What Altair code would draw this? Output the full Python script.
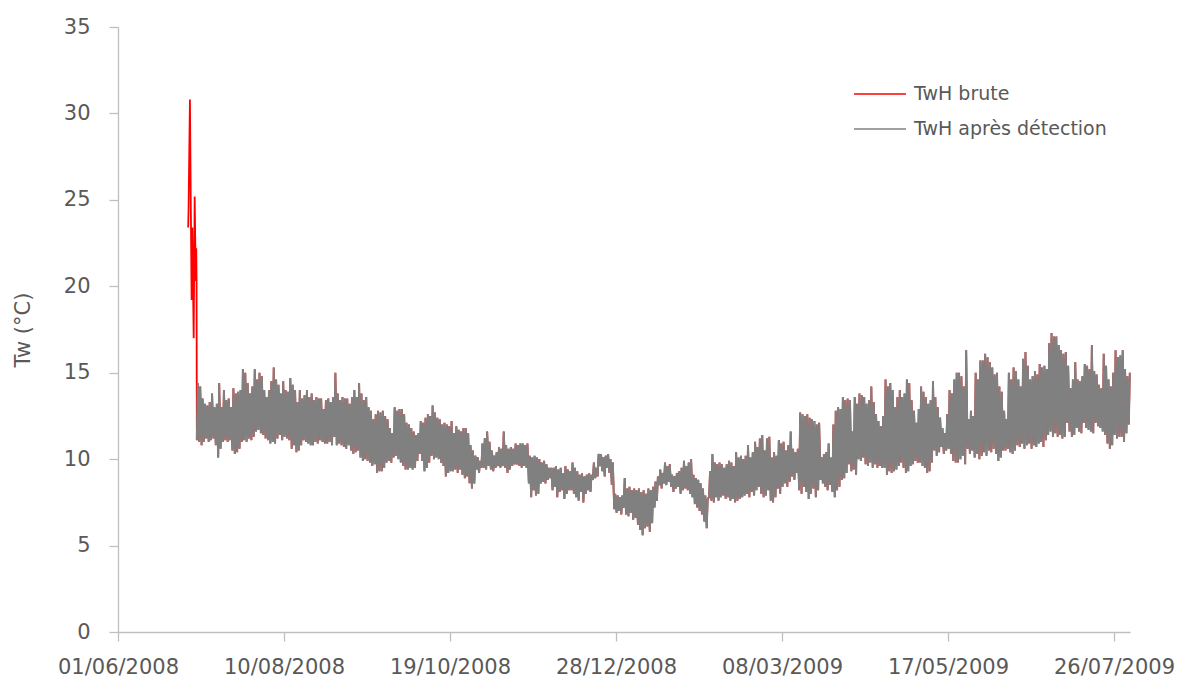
import altair as alt
import pandas as pd
from datetime import date, timedelta

# Raw sensor spike at installation (timestamp, degC)
brute_t = ["2008-06-30T14:00:00", "2008-06-30T18:00:00", "2008-07-01T08:00:00",
           "2008-07-02T01:00:00", "2008-07-02T08:00:00", "2008-07-02T22:00:00",
           "2008-07-03T08:00:00", "2008-07-03T19:00:00", "2008-07-04T00:00:00",
           "2008-07-04T03:00:00"]
brute_v = [23.4, 24.4, 30.8, 19.2, 23.4, 17.0, 25.2, 20.3, 22.2, 20.4]

# Daily minima / maxima of the validated series, one list per month
jul08_lo = [11.1, 11.0, 10.8, 11.0, 11.2, 11.0, 11.1, 11.2, 10.8, 10.1, 10.6, 11.0, 11.1, 11.0,
            11.1, 10.5, 10.3, 10.4, 10.6, 11.0, 11.1, 11.0, 11.2, 11.1, 11.3, 11.6, 11.7, 11.5]
jul08_hi = [14.4, 14.2, 13.5, 13.2, 13.1, 13.3, 13.8, 13.0, 13.2, 14.4, 13.0, 14.0, 13.4, 13.5,
            13.0, 14.1, 13.8, 13.9, 14.0, 15.2, 15.0, 14.4, 13.8, 14.2, 15.2, 14.6, 15.0, 14.8]
aug08_lo = [11.4, 11.2, 11.1, 10.9, 11.0, 10.9, 11.2, 11.4, 11.1, 11.3, 11.2, 11.1, 10.6, 10.8,
            10.4, 10.5, 10.8, 11.1, 11.0, 10.9, 10.8, 10.8, 11.0, 10.9, 11.1, 11.0, 10.9, 10.9,
            11.0, 10.8, 11.3]
aug08_hi = [14.0, 13.6, 14.0, 14.5, 15.3, 14.6, 14.3, 13.8, 14.5, 14.0, 13.9, 14.7, 14.3, 14.0,
            13.3, 14.0, 13.5, 13.7, 14.0, 13.6, 13.8, 13.4, 13.6, 13.5, 13.5, 12.9, 13.4, 13.5,
            13.3, 13.6, 15.0]
sep08_lo = [10.8, 10.9, 10.8, 10.7, 10.6, 10.8, 10.5, 10.3, 10.4, 10.5, 10.1, 9.9, 10.0, 9.9,
            9.8, 9.6, 9.7, 9.2, 9.3, 9.3, 9.5, 9.8, 9.9, 9.8, 10.1, 10.2, 10.0, 9.8, 9.6, 9.4]
sep08_hi = [13.8, 13.4, 13.6, 13.5, 13.5, 13.2, 13.6, 14.0, 13.6, 14.4, 13.8, 13.4, 13.6, 13.0,
            12.8, 12.3, 12.6, 12.8, 12.7, 12.8, 12.5, 12.3, 11.8, 11.5, 13.0, 12.8, 12.9, 12.9,
            12.6, 12.1]
oct08_lo = [9.4, 9.5, 9.4, 9.5, 9.9, 10.3, 9.9, 9.3, 9.5, 9.8, 10.2, 10.0, 10.1, 10.0, 9.8, 9.6,
            9.0, 9.2, 9.3, 9.3, 9.4, 9.2, 9.4, 9.1, 8.9, 9.0, 8.6, 8.3, 8.6, 9.4, 9.2]
oct08_hi = [12.0, 11.8, 11.6, 11.4, 11.5, 12.2, 12.1, 12.4, 12.6, 12.5, 13.1, 12.7, 12.4, 12.3,
            12.0, 12.1, 12.0, 11.9, 12.2, 11.5, 11.9, 11.7, 11.6, 11.8, 11.8, 11.5, 10.8, 10.5,
            10.2, 10.1, 9.9]
nov08_lo = [9.5, 9.5, 9.4, 9.6, 9.4, 9.3, 9.5, 9.6, 9.5, 9.6, 9.5, 9.2, 9.4, 9.6, 9.7, 9.7, 9.6,
            9.5, 9.6, 9.5, 8.6, 7.8, 8.2, 7.9, 8.0, 8.6, 8.7, 8.6, 8.8, 8.9]
nov08_hi = [10.9, 11.2, 11.6, 11.0, 10.5, 10.2, 10.4, 10.7, 10.6, 11.6, 10.8, 10.6, 10.7, 10.6,
            10.9, 10.8, 10.9, 10.9, 10.8, 10.9, 10.2, 10.1, 10.2, 10.1, 10.0, 9.8, 9.9, 9.7, 9.5,
            9.5]
dec08_lo = [8.2, 8.4, 7.8, 8.1, 8.2, 7.7, 8.0, 8.2, 8.2, 8.0, 7.8, 7.6, 8.1, 7.5, 8.0, 8.2, 8.1,
            8.8, 8.9, 9.0, 9.6, 9.3, 9.0, 9.5, 9.2, 8.5, 7.1, 6.9, 7.0, 6.8, 7.2]
dec08_hi = [9.5, 9.6, 9.4, 9.5, 9.2, 9.6, 9.4, 9.3, 9.8, 9.5, 9.3, 9.1, 9.2, 9.0, 9.1, 9.2, 9.1,
            9.8, 9.5, 10.3, 10.3, 10.1, 10.2, 10.3, 10.0, 9.8, 8.0, 7.9, 7.8, 7.9, 8.9]
jan09_lo = [6.8, 6.7, 6.9, 6.5, 6.6, 6.2, 5.9, 5.6, 6.0, 6.1, 5.8, 6.3, 7.2, 7.6, 8.5, 8.3, 8.6,
            8.5, 8.7, 8.4, 8.1, 8.3, 8.4, 8.0, 8.2, 8.3, 8.2, 8.0, 7.8, 7.4, 7.2]
jan09_hi = [8.3, 8.4, 8.2, 8.3, 8.2, 8.3, 8.1, 8.2, 8.0, 8.3, 8.2, 8.4, 8.7, 9.0, 9.4, 9.2, 9.8,
            9.6, 9.7, 9.1, 9.0, 9.2, 9.3, 9.5, 9.9, 9.6, 9.8, 10.0, 9.1, 8.9, 8.8]
feb09_lo = [7.0, 6.8, 6.4, 6.0, 7.8, 7.6, 7.5, 7.8, 7.6, 7.8, 7.9, 7.7, 7.8, 7.6, 7.7, 7.5, 7.6,
            7.7, 7.8, 7.9, 8.0, 7.8, 8.1, 7.9, 8.2, 8.4, 8.0, 7.8]
feb09_hi = [8.6, 8.3, 7.9, 7.7, 9.3, 10.3, 9.8, 9.7, 9.8, 9.7, 9.5, 9.7, 9.9, 9.8, 9.6, 10.4,
            10.1, 10.2, 10.0, 10.2, 10.8, 10.1, 10.4, 11.0, 10.7, 11.2, 11.4, 10.5]
mar09_lo = [7.9, 8.2, 7.6, 7.5, 7.8, 8.3, 8.0, 8.4, 8.6, 8.4, 8.7, 9.0, 8.8, 9.2, 8.2, 8.0, 8.4,
            8.1, 7.7, 8.0, 8.3, 7.8, 8.2, 8.8, 8.6, 8.4, 8.2, 8.5, 8.1, 7.8, 8.2]
mar09_hi = [11.2, 11.3, 10.1, 10.4, 10.2, 11.1, 10.9, 11.0, 10.5, 10.8, 11.6, 10.6, 10.4, 10.6,
            12.7, 12.6, 12.5, 12.6, 12.4, 12.3, 12.2, 12.0, 12.1, 10.1, 10.3, 10.4, 10.9, 10.1,
            12.0, 12.8, 13.0]
apr09_lo = [8.4, 8.8, 8.9, 9.2, 9.7, 9.3, 9.4, 9.1, 10.0, 9.9, 10.1, 9.7, 9.6, 9.8, 9.5, 9.7,
            9.5, 9.6, 9.5, 9.5, 9.1, 9.3, 9.2, 9.3, 9.4, 9.6, 9.8, 9.5, 9.2, 9.3]
apr09_hi = [12.9, 13.6, 13.4, 13.5, 13.4, 11.6, 13.6, 13.2, 13.8, 13.7, 13.6, 13.2, 13.4, 14.2,
            13.3, 12.6, 12.2, 11.9, 12.5, 14.6, 14.2, 14.4, 14.0, 13.0, 13.6, 14.0, 13.6, 13.8,
            14.6, 14.4]
may09_lo = [9.6, 9.7, 9.9, 9.8, 9.8, 9.6, 9.5, 9.2, 9.3, 9.8, 10.5, 10.2, 10.4, 10.7, 10.3, 10.5,
            10.6, 10.3, 9.9, 9.8, 9.8, 10.0, 10.2, 9.7, 10.6, 10.3, 10.5, 10.1, 10.3, 10.0, 10.2]
may09_hi = [13.4, 12.8, 12.1, 12.9, 14.2, 13.9, 13.6, 13.2, 13.4, 14.5, 13.6, 13.0, 12.4, 11.8,
            11.5, 12.6, 14.0, 13.8, 14.6, 15.0, 15.0, 14.8, 14.2, 16.3, 12.3, 12.8, 12.5, 15.0,
            14.6, 15.7, 15.7]
jun09_lo = [10.4, 10.2, 10.5, 10.4, 10.6, 10.3, 9.9, 10.1, 10.5, 10.5, 10.6, 10.4, 10.3, 10.5,
            10.8, 10.7, 10.9, 10.6, 10.8, 10.9, 10.6, 10.8, 10.7, 10.9, 11.0, 10.7, 11.1, 11.4,
            11.6, 11.3]
jun09_hi = [16.1, 15.9, 15.6, 15.3, 14.9, 15.0, 14.2, 13.9, 12.8, 12.3, 15.0, 14.6, 15.3, 15.1,
            14.6, 14.2, 15.8, 16.2, 15.4, 14.6, 14.8, 15.1, 14.9, 15.5, 15.3, 15.4, 15.2, 16.7,
            17.3, 17.1]
jul09_lo = [11.5, 11.3, 11.4, 11.2, 11.3, 12.1, 11.6, 11.3, 11.4, 11.8, 11.6, 11.5, 12.1, 11.8,
            11.7, 11.6, 11.5, 12.1, 11.9, 11.8, 11.6, 11.4, 10.9, 10.6, 10.8, 11.4, 11.2, 11.3,
            11.3, 11.0, 11.5, 12.0]
jul09_hi = [17.1, 16.6, 16.3, 16.1, 16.2, 15.4, 14.1, 14.6, 15.6, 14.6, 14.5, 14.8, 15.5, 15.4,
            15.2, 16.6, 15.1, 14.9, 14.3, 14.1, 16.1, 15.4, 14.6, 14.2, 15.0, 16.3, 15.9, 16.0,
            16.3, 15.2, 14.8, 15.0]

months = [
    (date(2008, 7, 4), jul08_lo, jul08_hi),
    (date(2008, 8, 1), aug08_lo, aug08_hi),
    (date(2008, 9, 1), sep08_lo, sep08_hi),
    (date(2008, 10, 1), oct08_lo, oct08_hi),
    (date(2008, 11, 1), nov08_lo, nov08_hi),
    (date(2008, 12, 1), dec08_lo, dec08_hi),
    (date(2009, 1, 1), jan09_lo, jan09_hi),
    (date(2009, 2, 1), feb09_lo, feb09_hi),
    (date(2009, 3, 1), mar09_lo, mar09_hi),
    (date(2009, 4, 1), apr09_lo, apr09_hi),
    (date(2009, 5, 1), may09_lo, may09_hi),
    (date(2009, 6, 1), jun09_lo, jun09_hi),
    (date(2009, 7, 1), jul09_lo, jul09_hi),
]

# Daily cycle: minimum early morning, maximum mid-afternoon
det_t, det_v = [], []
for start, lows, highs in months:
    for i, (lo, hi) in enumerate(zip(lows, highs)):
        d = start + timedelta(days=i)
        det_t += [f"{d.isoformat()}T06:00:00", f"{d.isoformat()}T16:00:00"]
        det_v += [lo, hi]

S_BRUTE = "TwH brute"
S_DET = "TwH après détection"

# Raw series = spike followed by the values kept after detection
brute = pd.DataFrame({"t": brute_t + det_t, "v": brute_v + det_v, "serie": S_BRUTE})
det = pd.DataFrame({"t": det_t, "v": det_v, "serie": S_DET})

tick_dates = [alt.DateTime(year=2008, month=6, date=1), alt.DateTime(year=2008, month=8, date=10),
              alt.DateTime(year=2008, month=10, date=19), alt.DateTime(year=2008, month=12, date=28),
              alt.DateTime(year=2009, month=3, date=8), alt.DateTime(year=2009, month=5, date=17),
              alt.DateTime(year=2009, month=7, date=26)]

FONT = "DejaVu Sans"
TXT = "#595959"
AX = "#BFBFBF"

x_enc = alt.X(
    "t:T",
    scale=alt.Scale(domain=[alt.DateTime(year=2008, month=6, date=1),
                            alt.DateTime(year=2009, month=8, date=1, hours=18)]),
    axis=alt.Axis(values=tick_dates, format="%d/%m/%Y", title=None, labelPadding=15,
                  labelOverlap=False, labelFlush=False),
)
y_enc = alt.Y(
    "v:Q",
    scale=alt.Scale(domain=[0, 35], nice=False, zero=True),
    axis=alt.Axis(values=[0, 5, 10, 15, 20, 25, 30, 35], title="Tw (°C)", labelPadding=19,
                  titlePadding=30, titleFontWeight="normal"),
)
color_enc = alt.Color(
    "serie:N",
    scale=alt.Scale(domain=[S_BRUTE, S_DET], range=["#FF0000", "#808080"]),
    legend=alt.Legend(title=None, orient="none", legendX=735, legendY=57, symbolType="stroke",
                      symbolSize=2704, symbolStrokeWidth=1.6, clipHeight=20, rowPadding=15,
                      labelOffset=7, labelFont=FONT, labelFontSize=19, labelColor=TXT,
                      labelLimit=400, padding=0),
)

red = alt.Chart(brute).mark_line(strokeWidth=1.8).encode(x=x_enc, y=y_enc, color=color_enc)
gray = alt.Chart(det).mark_line(strokeWidth=2.0).encode(x=x_enc, y=y_enc, color=color_enc)

chart = (
    alt.layer(red, gray)
    .properties(width=1012, height=605, autosize=alt.AutoSizeParams(type="none"),
                padding={"left": 118, "top": 27, "right": 53, "bottom": 47},
                background="white")
    .configure_view(stroke=None)
    .configure_axis(grid=False, domainColor=AX, domainWidth=1.3, tickColor=AX, tickWidth=1.3,
                    tickSize=9, labelFont=FONT, labelFontSize=21, labelColor=TXT,
                    titleFont=FONT, titleFontSize=21, titleColor=TXT)
)

chart.save("out.html", embed_options={"renderer": "svg", "actions": False})
